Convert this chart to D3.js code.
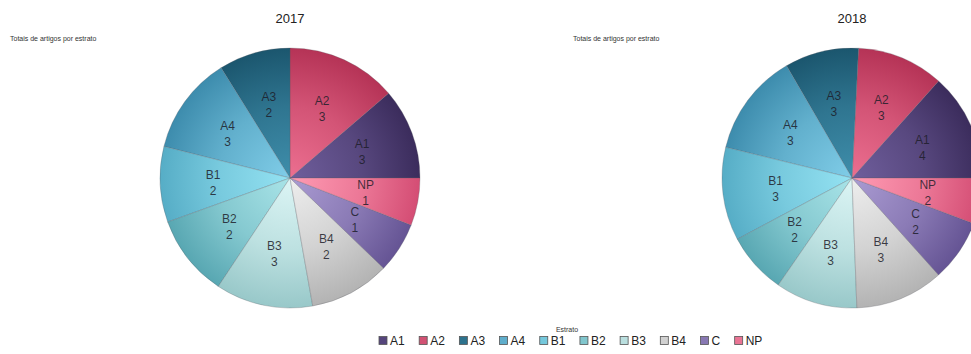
<!DOCTYPE html>
<html>
<head>
<meta charset="utf-8">
<script src="https://cdn.jsdelivr.net/npm/d3@7"></script>
<style>
    body { margin: 0; background: #fff; }
    svg { display: block; font-family: "Liberation Sans", Arial, sans-serif; }
</style>
</head>
<body>
<div id="chart"></div>
<script>
// categories (estrato)
const estratos = ["A1", "A2", "A3", "A4", "B1", "B2", "B3", "B4", "C", "NP"];

// displayed totals per slice
const totais2017 = [3, 3, 2, 3, 2, 2, 3, 2, 1, 1];
const totais2018 = [4, 3, 3, 3, 3, 2, 3, 3, 2, 2];

const fatias2017 = [11.3, 13.7, 8.9, 12.2, 9.4, 10.2, 12.1, 10.0, 6.3, 5.9];
const fatias2018 = [13.4, 10.8, 9.2, 12.8, 11.6, 7.6, 10.2, 11.0, 7.7, 5.7];

const anos = ["2017", "2018"];

// [rim, center] colour for each estrato
const cores = [
    ["#3b2c5c", "#6f5e9c"],
    ["#b53356", "#ec6f90"],
    ["#1b566e", "#3f8eab"],
    ["#3d8cad", "#80cde8"],
    ["#56adc6", "#94e2f2"],
    ["#58a7b2", "#a9e4e8"],
    ["#98c8c9", "#dcf5f5"],
    ["#b3b3b3", "#eeeeee"],
    ["#655494", "#aa9bd2"],
    ["#d44d74", "#ff9bb3"]
];

const width = 971, height = 354;
const radius = 130;
const centros = [[290, 178], [852, 178]];

const svg = d3.select("#chart").append("svg")
    .attr("width", width)
    .attr("height", height);

const defs = svg.append("defs");

const pie = d3.pie()
    .sort(null)
    .value(d => d.fatia)
    .startAngle(Math.PI / 2)
    .endAngle(Math.PI / 2 - 2 * Math.PI);

const arc = d3.arc().innerRadius(0).outerRadius(radius);
const labelArc = d3.arc().innerRadius(77).outerRadius(77);

// one radial gradient per colour (centred on the pie origin, in the pie's own space)
cores.forEach((c, i) => {
    let g = defs.append("radialGradient")
        .attr("id", `grad-${i}`)
        .attr("gradientUnits", "userSpaceOnUse")
        .attr("cx", 0).attr("cy", 0).attr("r", radius);
    g.append("stop").attr("offset", "0%").attr("stop-color", c[1]);
    g.append("stop").attr("offset", "55%").attr("stop-color", d3.interpolateRgb(c[1], c[0])(0.45));
    g.append("stop").attr("offset", "100%").attr("stop-color", c[0]);
});

[[fatias2017, totais2017], [fatias2018, totais2018]].forEach(([fatias, totais], p) => {
    let cx = centros[p][0], cy = centros[p][1];

    let dados = estratos.map((e, i) => ({estrato: e, total: totais[i], fatia: fatias[i], idx: i}));

    let g = svg.append("g").attr("transform", `translate(${cx},${cy})`);

    g.selectAll("path.slice")
        .data(pie(dados))
        .enter().append("path")
        .attr("class", "slice")
        .attr("d", arc)
        .attr("fill", d => `url(#grad-${d.data.idx})`)
        .attr("stroke", "rgba(90,90,100,0.35)")
        .attr("stroke-width", 0.8);

    let labels = g.selectAll("text.lbl")
        .data(pie(dados))
        .enter().append("text")
        .attr("class", "lbl")
        .attr("transform", d => `translate(${labelArc.centroid(d)})`)
        .attr("text-anchor", "middle")
        .attr("font-size", 12)
        .attr("fill", "#1e1e2a")
        .attr("fill-opacity", 0.85);

    labels.append("tspan").attr("x", 0).attr("y", -3).text(d => d.data.estrato);
    labels.append("tspan").attr("x", 0).attr("y", 13).text(d => d.data.total);

    // year title
    svg.append("text")
        .attr("x", cx)
        .attr("y", 23)
        .attr("text-anchor", "middle")
        .attr("font-size", 13)
        .attr("fill", "#222")
        .text(anos[p]);

    // small subtitle
    svg.append("text")
        .attr("x", p === 0 ? 10 : 573)
        .attr("y", 41)
        .attr("font-size", 7)
        .attr("fill", "#333")
        .text("Totais de artigos por estrato");
});

// legend
const legend = svg.append("g").attr("class", "legend");

legend.append("text")
    .attr("x", 567)
    .attr("y", 332)
    .attr("text-anchor", "middle")
    .attr("font-size", 7)
    .attr("fill", "#333")
    .text("Estrato");

let lx = 379;
estratos.forEach((e, i) => {
    let item = legend.append("g").attr("transform", `translate(${lx},336)`);
    item.append("rect")
        .attr("x", 0).attr("y", 0.5)
        .attr("width", 8).attr("height", 8)
        .attr("fill", d3.interpolateRgb(cores[i][1], cores[i][0])(0.5))
        .attr("stroke", "#555")
        .attr("stroke-width", 0.8);
    let t = item.append("text")
        .attr("x", 11)
        .attr("y", 8.5)
        .attr("font-size", 12)
        .attr("fill", "#222")
        .text(e);
    lx += 11 + t.node().getComputedTextLength() + 14.5;
});
</script>
</body>
</html>
